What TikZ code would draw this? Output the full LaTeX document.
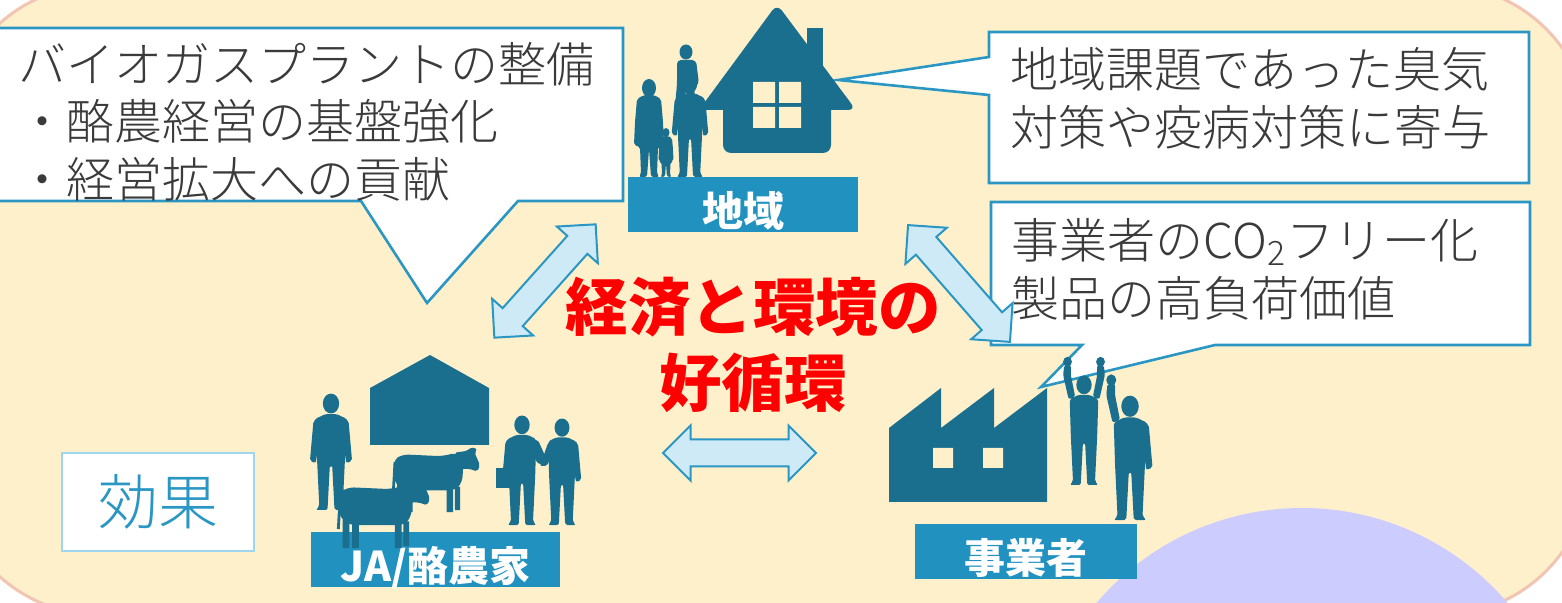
\documentclass[tikz,border=0pt]{standalone}
\usepackage{fontspec}
\setmainfont{Noto Sans CJK JP}
\newfontfamily\thinjp{Noto Sans CJK JP Light}
\usetikzlibrary{shapes.arrows}

\definecolor{cream}{HTML}{FFF0CC}
\definecolor{rim}{HTML}{F2C4B2}
\definecolor{lilac}{HTML}{CCCCFF}
\definecolor{teal}{HTML}{1A6E8E}
\definecolor{barblue}{HTML}{2191C0}
\definecolor{edgeblue}{HTML}{2A96C4}
\definecolor{paleblue}{HTML}{CDEAF6}
\definecolor{boxedge}{HTML}{9DD6EE}
\definecolor{ink}{HTML}{3A3A3A}

\tikzstyle{bubble} = [draw=edgeblue, line width=1.3pt, fill=white]
\tikzstyle{bubbletext} = [anchor=north west, inner sep=0pt, align=left,
text=ink,
font=\thinjp\fontsize{24}{28.75}\selectfont]
\tikzstyle{tag} = [fill=barblue, text=white,
minimum height=27.5pt, inner sep=0pt,
text height=22pt, text depth=0pt,
font=\bfseries\fontsize{20.5}{24}\selectfont]
\tikzstyle{twoway} = [double arrow, draw=edgeblue, fill=paleblue,
line width=1pt, inner sep=0pt,
text height=12.5pt, text depth=0pt,
minimum height=76pt,
double arrow head extend=7pt]
\tikzstyle{slogan} = [text=red, align=center, inner sep=0pt,
font=\bfseries\fontsize{31.25}{38}\selectfont]
\tikzstyle{effect} = [draw=boxedge, line width=1pt, fill=white,
text=edgeblue,
minimum width=96pt, minimum height=49pt,
font=\thinjp\fontsize{30}{36}\selectfont]

% silhouettes, feet at the origin, about 100 units tall
\tikzset{
  suit/.pic={
    \fill[teal] (0,-91) ellipse (7 and 8.5);
    \fill[teal, rounded corners=1pt] (-5,-82) -- (5,-82) -- (13,-78) -- (12,-45) -- (10,-3) -- (13,0) -- (3,0) -- (1,-38)
      -- (-1,-38) -- (-3,0) -- (-13,0) -- (-10,-3) -- (-12,-45) -- (-13,-78) -- cycle;
  },
  armdown/.pic={
    \fill[teal, rounded corners=1pt] (10,-80) -- (15,-76) -- (18,-42) -- (13,-40) -- (11,-55) -- cycle;
  },
  armup/.pic={
    \fill[teal, rounded corners=1pt] (-8,-80) -- (-14,-78) -- (-19,-100) -- (-18,-109) -- (-12,-109) -- (-12,-100) -- cycle;
    \fill[teal] (-15,-112) ellipse (4 and 4.5);
  },
  lady/.pic={
    \fill[teal] (0,-89) ellipse (7 and 9);
    \fill[teal, rounded corners=1pt] (-5,-82) -- (5,-82) -- (12,-78) -- (14,-55) -- (15,-32) -- (9,-30) -- (8,-3) -- (10,0)
      -- (2,0) -- (0,-28) -- (-2,0) -- (-10,0) -- (-8,-3) -- (-9,-30) -- (-15,-32) -- (-14,-55) -- (-12,-78) -- cycle;
  },
  cow/.pic={
    \fill[teal, rounded corners=3pt] (4,-58) -- (14,-64) -- (58,-62) -- (74,-66) -- (82,-58) -- (80,-32) -- (72,-24)
      -- (16,-24) -- (5,-32) -- cycle;
    \fill[teal] (8,-30) rectangle (15,0) (18,-28) rectangle (25,0) (63,-28) rectangle (70,0) (72,-28) rectangle (78,-2);
    \fill[teal, rounded corners=1pt] (72,-66) -- (86,-68) -- (90,-72) -- (97,-70) -- (94,-66) -- (100,-52) -- (97,-45)
      -- (88,-48) -- (78,-48) -- cycle;
    \fill[teal] (4,-56) -- (2,-20) -- (5,-20) -- (7,-54) -- cycle;
  },
}

\begin{document}
\begin{tikzpicture}[x=0.5pt, y=-0.5pt]

    \clip (0,0) rectangle (1562,603);
    \draw[draw=rim, line width=1.5pt, fill=cream, rounded corners=75pt] (-50,-15) rectangle (1590,615);
    \fill[lilac] (1302,778) circle (270);

    % speech bubbles
    \draw[bubble] (-3,28) -- (623,28) -- (623,201) -- (518,201) -- (427,303) -- (361,201) -- (-3,201) -- cycle;
    \draw[bubble] (989,32) -- (1529,32) -- (1529,183) -- (989,183) -- (989,95) -- (838,80) -- (989,57) -- cycle;
    \draw[bubble] (991,202) -- (1530,202) -- (1530,345) -- (1215,345) -- (1041,387) -- (1082,345) -- (991,345) -- cycle;

    \node (biogas) [bubbletext] at (18,42) {バイオガスプラントの整備\\・酪農経営の基盤強化\\・経営拡大への貢献};
    \node (odor) [bubbletext, font=\thinjp\fontsize{24}{29}\selectfont] at (1010,47) {地域課題であった臭気\\対策や疫病対策に寄与};
    \node (value) [bubbletext, font=\thinjp\fontsize{24}{29}\selectfont] at (1011,218) {事業者のCO\textsubscript{2}フリー化\\製品の高負荷価値};

    % name bars
    \node (chiiki) [tag, minimum width=115pt] at (743,204.5) {地域};
    \node (rakuno) [tag, minimum width=124.5pt] at (435.5,559.5) {JA/酪農家};
    \node (jigyo) [tag, minimum width=111pt] at (1026,551.5) {事業者};

    % house and family
    \fill[teal, rounded corners=4pt] (699,110) -- (777,4) -- (856,110) -- cycle;
    \fill[teal, rounded corners=4pt] (723,100) rectangle (831,153);
    \fill[teal] (807,28) rectangle (823,70);
    \fill[cream] (753,82) rectangle (775,103) (779,82) rectangle (801,103)
                 (753,107) rectangle (775,128) (779,107) rectangle (801,128);
    \pic[scale=1.0] at (649,177) {lady};
    \pic[scale=0.5] at (666,177) {lady};
    \pic[scale=1.02] at (690,177) {suit};
    \pic[scale=1.02] at (690,177) {armdown};
    \pic[scale=1.02, xscale=-1] at (690,177) {armdown};
    \fill[teal] (686,52) ellipse (6.5 and 7.5);
    \fill[teal, rounded corners=2pt] (677,60) -- (696,60) -- (699,84) -- (694,88) -- (696,106) -- (689,106) -- (686,90)
      -- (682,106) -- (675,106) -- (677,84) -- cycle;

    % barn, farmer, cows and handshake
    \fill[teal] (370,388) -- (430,355) -- (489,388) -- (489,445) -- (370,445) -- cycle;
    \pic[scale=1.17] at (331,510) {suit};
    \pic[scale=1.17] at (331,510) {armdown};
    \pic[scale=1.17, xscale=-1] at (331,510) {armdown};
    \pic[scale=0.9] at (390,512) {cow};
    \pic[scale=0.95] at (335,548) {cow};
    \pic[scale=1.1] at (522,525) {suit};
    \pic[scale=1.1, xscale=-1] at (522,525) {armdown};
    \fill[teal] (496,468) rectangle (512,488);
    \pic[scale=1.07] at (562,525) {suit};
    \pic[scale=1.07] at (562,525) {armdown};
    \fill[teal, rounded corners=1pt] (531,440) -- (538,440) -- (546,458) -- (544,466) -- (536,462) -- cycle;
    \fill[teal, rounded corners=1pt] (548,443) -- (555,446) -- (547,466) -- (540,466) -- cycle;

    % factory and cheering staff
    \fill[teal] (889,428) -- (941,388) -- (941,428) -- (994,388) -- (994,428) -- (1047,388) -- (1047,502) -- (889,502) -- cycle;
    \fill[cream] (933,448) rectangle (953,468) (983,448) rectangle (1003,468);
    \pic[scale=1.1] at (1084,485) {suit};
    \pic[scale=1.1] at (1084,485) {armup};
    \pic[scale=1.1, xscale=-1] at (1084,485) {armup};
    \pic[scale=1.25] at (1130,520) {suit};
    \pic[scale=1.25] at (1130,520) {armup};
    \pic[scale=1.25] at (1130,520) {armdown};

    % links between the three parties
    \node (linkL) [twoway, rotate=48.2] at (545,281) {};
    \node (linkR) [twoway, rotate=-48.9, minimum height=77.5pt] at (959,283.5) {};
    \node (linkB) [twoway, minimum height=76.5pt] at (739.5,453) {};

    \node (motto) [slogan] at (753,345) {経済と環境の\\好循環};
    \node (kouka) [effect] at (158,502) {効果};

\end{tikzpicture}
\end{document}
